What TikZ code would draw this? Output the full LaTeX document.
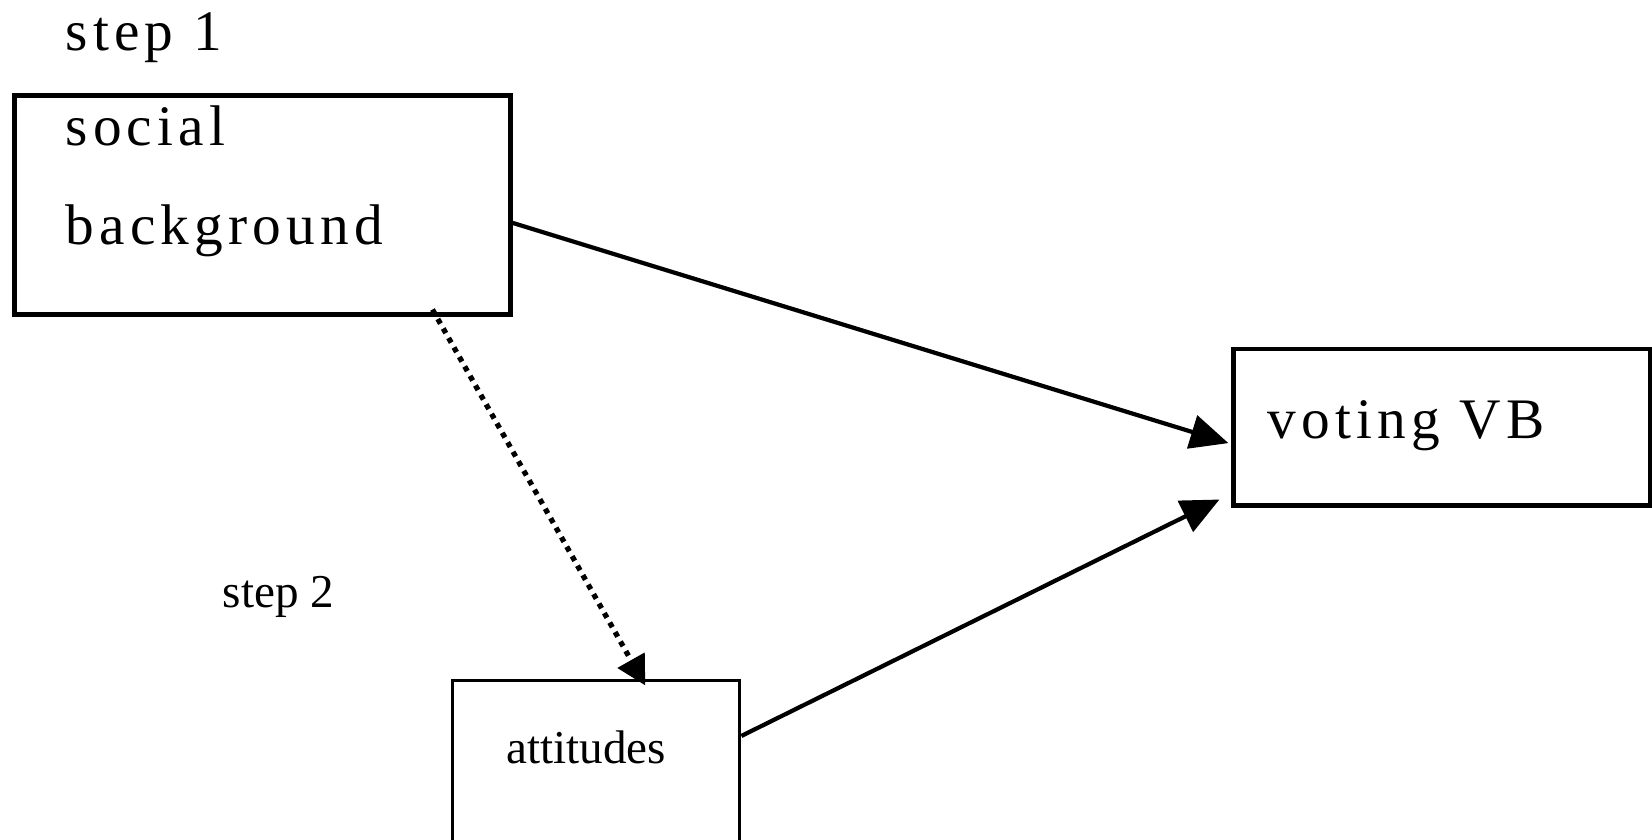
\documentclass[tikz,border=0pt]{standalone}
\usepackage{fontspec}
\setmainfont{Liberation Serif}
\newfontfamily\spaced[LetterSpace=9]{Liberation Serif}
\usepackage{tikz}
\usetikzlibrary{calc,arrows.meta}
\tikzset{
  box/.style={draw, rectangle, line width=1.4pt, inner sep=0pt},
  thinbox/.style={draw, rectangle, line width=0.85pt, inner sep=0pt},
  lab/.style={anchor=base west, inner sep=0pt, font=\fontsize{16.3}{19}\spaced},
  labs/.style={anchor=base west, inner sep=0pt, font=\fontsize{13.4}{16}\selectfont},
  link/.style={line width=1.2pt, -{Triangle[length=0.38cm, width=0.34cm]}},
  dotlink/.style={line width=1.5pt, dash pattern=on 1.5pt off 1.6pt,
    -{Triangle[length=0.29cm, width=0.3cm]}}
}
\begin{document}
\begin{tikzpicture}[x=0.01cm, y=-0.01cm]
  \useasboundingbox (0,0) rectangle (1652,839);
  \clip (0,0) rectangle (1652,839);

  % boxes
  \node[box, minimum width=4.95cm, minimum height=2.18cm] (sbox) at (262.4,205) {};
  \node[box, minimum width=4.16cm, minimum height=1.56cm] (vbox) at (1442,427) {};
  \node[thinbox, minimum width=2.87cm, minimum height=2.2cm] (abox) at (596.3,791) {};

  % texts
  \node[lab] (step1) at (65,50.6) {step 1};
  \node[lab] (social) at (65,145.4) {social};
  \node[lab] (backgr) at (65,244.4) {background};
  \node[lab] (voting) at (1267,438) {voting VB};
  \node[labs] (step2) at (222,607) {step 2};
  \node[labs] (attit) at (505.7,763) {attitudes};

  % connectors
  \draw[link] ($(sbox.north east)!0.58!(sbox.south east)$)
    -- ($(vbox.north west)!0.6!(vbox.south west)+(-3,0)$);
  \draw[link] ($(abox.north east)+(0,56.5)$) -- ($(vbox.south west)+(-12,-8)$);
  \draw[dotlink] ($(sbox.south west)!0.84!(sbox.south east)+(0,-7)$)
    -- ($(abox.north)+(49,6)$);
\end{tikzpicture}
\end{document}
